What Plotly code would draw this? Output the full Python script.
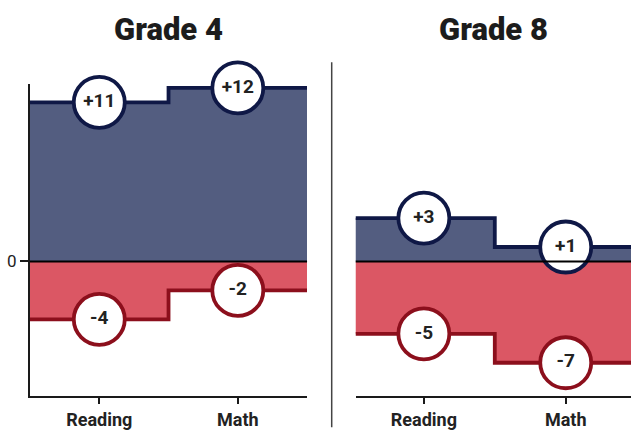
import plotly.graph_objects as go

categories = ["Reading", "Math"]
grade4_gain = [11, 12]
grade4_loss = [-4, -2]
grade8_gain = [3, 1]
grade8_loss = [-5, -7]
panel_titles = ["Grade 4", "Grade 8"]

BLUE_FILL = "#535d80"
BLUE_LINE = "#0f1846"
RED_FILL = "#db5764"
RED_LINE = "#8c0f1c"
TXT = "#222222"

fig = go.Figure()


def step_xy(vals):
    n = len(vals)
    xs = [i - 0.5 for i in range(n)] + [n - 0.5]
    ys = list(vals) + [vals[-1]]
    return xs, ys


def add_panel(gain, loss, xa, ya):
    for vals, fill, line in ((gain, BLUE_FILL, BLUE_LINE), (loss, RED_FILL, RED_LINE)):
        xs, ys = step_xy(vals)
        fig.add_trace(go.Scatter(
            x=xs, y=ys, mode="lines", line=dict(shape="hv", color=line, width=3.8),
            fill="tozeroy", fillcolor=fill, xaxis=xa, yaxis=ya,
            hoverinfo="skip", showlegend=False))
    for vals, line in ((gain, BLUE_LINE), (loss, RED_LINE)):
        fig.add_trace(go.Scatter(
            x=list(range(len(vals))), y=vals, mode="markers+text",
            marker=dict(size=51, color="white", line=dict(color=line, width=3.8)),
            text=[f"{v:+d}" if v > 0 else f"{v:d}" for v in vals],
            textposition="middle center",
            textfont=dict(family="Roboto", size=19, color=TXT, weight="bold"),
            cliponaxis=False, xaxis=xa, yaxis=ya, showlegend=False))


add_panel(grade4_gain, grade4_loss, "x", "y")
add_panel(grade8_gain, grade8_loss, "x2", "y2")

yrange = [-9.3, 12.27]
xcommon = dict(tickmode="array", tickvals=list(range(len(categories))), ticktext=categories,
               showline=True, linecolor="#1a1a1a", linewidth=2, ticks="outside", ticklen=6,
               tickcolor="#1a1a1a", tickwidth=1.5, showgrid=False, zeroline=False,
               tickfont=dict(family="Roboto", size=18, color=TXT, weight="bold"), fixedrange=True)

fig.update_layout(
    width=631, height=430,
    margin=dict(l=30, r=0, t=84, b=22),
    paper_bgcolor="white", plot_bgcolor="white",
    xaxis=dict(domain=[0, 0.461], range=[-0.5, 1.5], **xcommon),
    xaxis2=dict(domain=[0.542, 1], range=[-0.48, 1.46], anchor="y2", **xcommon),
    yaxis=dict(range=yrange, tickvals=[0], ticktext=["0"], showline=True, linecolor="#1a1a1a",
               linewidth=2, ticks="outside", ticklen=8, tickcolor="#1a1a1a", tickwidth=1.5,
               showgrid=False, zeroline=False,
               tickfont=dict(family="Roboto", size=17, color=TXT)),
    yaxis2=dict(range=yrange, anchor="x2", showticklabels=False, showline=False,
                showgrid=False, zeroline=False),
    showlegend=False,
)

for xref, yref in (("x domain", "y"), ("x2 domain", "y2")):
    fig.add_shape(type="line", xref=xref, yref=yref, x0=0, x1=1, y0=0, y1=0,
                  line=dict(color="black", width=2), layer="above")

fig.add_shape(type="line", xref="paper", yref="paper", x0=0.502, x1=0.502, y0=-0.1, y1=1.07,
              line=dict(color="#444444", width=1.5))

for title, xc in zip(panel_titles, [0.2305, 0.771]):
    fig.add_annotation(text=title, xref="paper", yref="paper", x=xc, y=1.176,
                       showarrow=False, xanchor="center", yanchor="middle",
                       font=dict(family="Roboto", size=31, color="#1c1c1c", weight=900))

fig.write_html("out.html", config={"displayModeBar": False},
               post_script="document.body.style.margin='0';document.body.style.padding='0';")
